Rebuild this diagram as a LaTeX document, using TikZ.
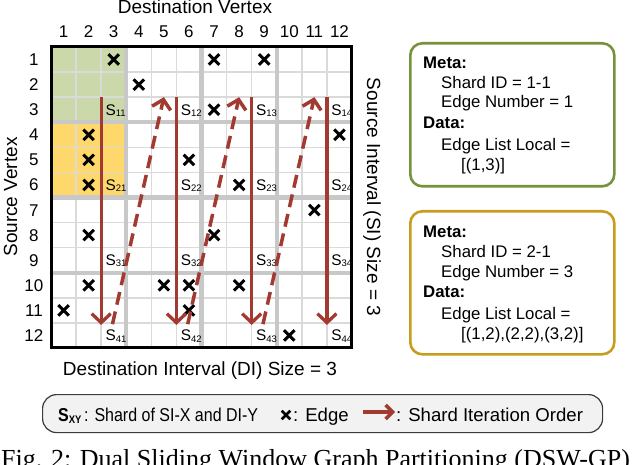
\documentclass[tikz,border=0pt]{standalone}
\usepackage{fontspec}
\setmainfont{Liberation Sans}
\newfontfamily\capfont{Liberation Serif}
\usetikzlibrary{arrows.meta,shapes.misc}
\newcommand\fsz[1]{\fontsize{#1}{#1}\selectfont}
\definecolor{arrowred}{RGB}{163,58,50}
\definecolor{greenfill}{RGB}{203,217,170}
\definecolor{yellowfill}{RGB}{255,216,108}
\definecolor{greenborder}{RGB}{118,146,60}
\definecolor{goldborder}{RGB}{200,156,30}
\definecolor{thickgray}{RGB}{200,200,200}
\definecolor{thingray}{RGB}{218,218,218}
\definecolor{legendfill}{RGB}{242,242,242}
\definecolor{legendborder}{RGB}{60,60,60}
\tikzset{
  thingrid/.style={draw=thingray, line width=1.4pt},
  thickgrid/.style={draw=thickgray, line width=4.2pt},
  edgemark/.style={cross out, draw=black, line width=3pt, minimum size=7.5pt, inner sep=0pt},
  shardlbl/.style={anchor=base west, inner sep=0pt, font=\fsz{15.4}},
  numlbl/.style={anchor=base, inner sep=0pt, font=\fsz{17}},
  axislbl/.style={anchor=base, inner sep=0pt, font=\fsz{19}},
  solidarrow/.style={draw=arrowred, line width=3.3pt, -{Straight Barb[length=9pt,width=19pt]}},
  dasharrow/.style={draw=arrowred, line width=3.5pt, dash pattern=on 13pt off 7pt, -{Straight Barb[length=9pt,width=19pt]}},
  legendarrow/.style={draw=arrowred, line width=3.4pt, -{Straight Barb[length=7pt,width=14pt]}},
  infobox/.style={rounded corners=12pt, line width=2.6pt, anchor=north west, minimum width=204pt, minimum height=143pt, inner sep=0pt},
  boxtxt/.style={anchor=base west, inner sep=0pt, font=\fsz{16.8}},
  boxhead/.style={anchor=base west, inner sep=0pt, font=\fsz{16.8}\bfseries},
  legtxt/.style={anchor=base west, inner sep=0pt, font=\fsz{18.6}},
}
\begin{document}
\begin{tikzpicture}[x=1pt,y=-1pt]
\useasboundingbox (0,0) rectangle (640,465);
\fill[white] (0,0) rectangle (640,465);

% ---------- grid ----------
\begin{scope}[shift={(51,47)},x=25.083pt,y=-25.083pt]
  \fill[greenfill] (0,0) rectangle (3,3);
  \fill[yellowfill] (0,3) rectangle (3,6);
  \foreach \i in {1,2,4,5,7,8,10,11} {
    \draw[thingrid] (\i,0) -- (\i,12);
    \draw[thingrid] (0,\i) -- (12,\i);
  }
  \foreach \i in {3,6,9} {
    \draw[thickgrid] (\i,0) -- (\i,12);
    \draw[thickgrid] (0,\i) -- (12,\i);
  }
  % column and row numbers
  \foreach \c in {1,...,12}
    \node[numlbl] (col\c) at ({\c-0.5},-0.36) {\c};
  \foreach \r in {1,...,12}
    \node[numlbl] (row\r) at (-0.68,{\r-0.5+0.24}) {\r};
  % edges
  \foreach \r/\c in {1/3,1/7,1/9,2/4,3/7,4/2,4/12,5/2,5/6,6/2,6/8,7/11,8/2,8/7,10/2,10/5,10/6,10/8,11/1,11/6,12/10}
    \node[edgemark] (e\r-\c) at ({\c-0.5},{\r-0.5}) {};
  % shard labels
  \foreach \X in {1,...,4} {
    \foreach \Y in {1,...,4} {
      \node[shardlbl] (s\X\Y) at ({3*\Y-1+0.17},{3*\X-0.5+0.22}) {S{\fsz{9.5}\raisebox{-1.2pt}{\X\Y}}};
    }
  }
  % iteration arrows
  \foreach \k in {0,1,2,3} {
    \coordinate (top\k) at ({2+3*\k},2);
    \coordinate (bot\k) at ({2+3*\k},11.08);
    \draw[solidarrow] (top\k) -- (bot\k);
  }
  \foreach \k in {0,1,2} {
    \coordinate (ds\k) at ({2.45+3*\k},11.05);
    \coordinate (de\k) at ({4.5+3*\k},2.0);
    \draw[dasharrow] (ds\k) -- (de\k);
  }
  \draw[line width=3pt] (0,0) rectangle (12,12);
\end{scope}

% ---------- axis titles ----------
\node[axislbl] (dvtitle) at (195,14) {Destination Vertex};
\node[axislbl] (dititle) at (200,375) {Destination Interval (DI) Size = 3};
\node[axislbl, rotate=90] (svtitle) at (17,197) {Source Vertex};
\node[axislbl, rotate=-90] (sititle) at (367,197) {Source Interval (SI) Size = 3};

% ---------- info boxes ----------
\node[infobox, draw=greenborder] (box1) at (409,42) {};
\node[boxhead] (b1meta) at (423,69) {Meta:};
\node[boxtxt] (b1id) at (441,89) {Shard ID = 1-1};
\node[boxtxt] (b1num) at (441,108) {Edge Number = 1};
\node[boxhead] (b1data) at (423,129) {Data:};
\node[boxtxt] (b1list) at (441,151) {Edge List Local =};
\node[boxtxt] (b1val) at (461,171) {[(1,3)]};

\node[infobox, draw=goldborder] (box2) at (409,210) {};
\node[boxhead] (b2meta) at (423,238) {Meta:};
\node[boxtxt] (b2id) at (441,258) {Shard ID = 2-1};
\node[boxtxt] (b2num) at (441,277) {Edge Number = 3};
\node[boxhead] (b2data) at (423,298) {Data:};
\node[boxtxt] (b2list) at (441,319) {Edge List Local =};
\node[boxtxt] (b2val) at (461,339) {[(1,2),(2,2),(3,2)]};

% ---------- legend ----------
\node[draw=legendborder, fill=legendfill, line width=1.2pt, rounded corners=14pt, anchor=north west, minimum width=560pt, minimum height=38pt, inner sep=0pt] (legend) at (42,394) {};
\node[legtxt] (legS) at (58,421.5) {\scalebox{0.86}[1]{\textbf{S}{\fsz{11}\bfseries\raisebox{-1.5pt}{XY}}\,: Shard of SI-X and DI-Y}};
\node[edgemark, minimum size=6pt, line width=2.6pt] (legX) at (286,415) {};
\node[legtxt] (legE) at (293,421.5) {: Edge};
\coordinate (la) at (363,412);
\coordinate (lb) at (395,412);
\draw[legendarrow] (la) -- (lb);
\node[legtxt] (legO) at (396,421.5) {: Shard Iteration Order};

% ---------- caption (cut off at the bottom, as in the reference) ----------
\begin{scope}
  \clip (0,0) rectangle (640,465);
  \node[anchor=base west, inner sep=0pt, font=\capfont\fsz{26}] (caption) at (1,467) {Fig. 2: Dual Sliding Window Graph Partitioning (DSW-GP)};
\end{scope}
\end{tikzpicture}
\end{document}
